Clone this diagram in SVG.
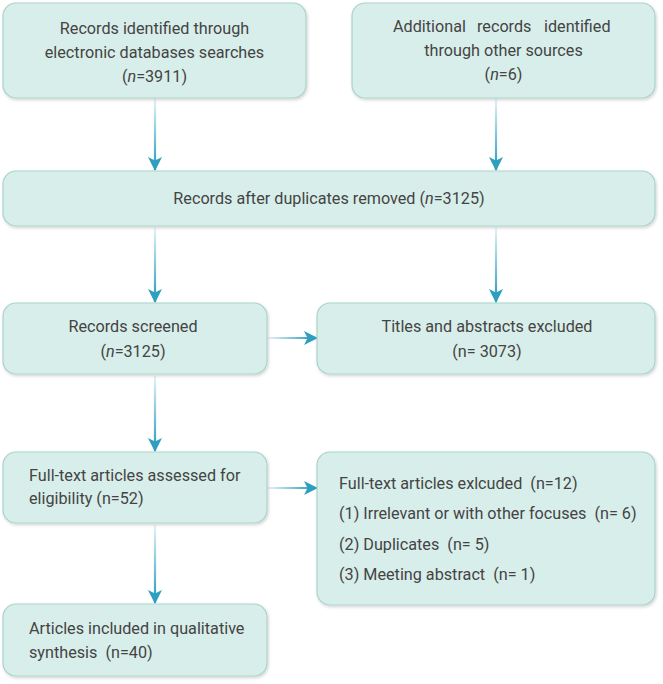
<svg xmlns="http://www.w3.org/2000/svg" width="663" height="684" viewBox="0 0 663 684">
<defs>
<style>
.box{fill:#d8eeea;stroke:#a9d3cc;stroke-width:1.2;filter:url(#sh)}
.t{font-family:Roboto,"Liberation Sans",sans-serif;font-size:16.2px;fill:#444}
.c{text-anchor:middle}
.con{stroke-width:2.2;fill:none}
.s0{stop-color:#e6f3f7}
.s1{stop-color:#2e9fbf}
</style>
<filter id="sh" x="-5%" y="-10%" width="110%" height="125%">
<feDropShadow dx="1" dy="1.5" stdDeviation="1.5" flood-color="#000" flood-opacity="0.18"/>
</filter>
<linearGradient id="g1" gradientUnits="userSpaceOnUse" x1="0" y1="99" x2="0" y2="165"><stop offset="0" class="s0"/><stop offset="1" class="s1"/></linearGradient>
<linearGradient id="g2" gradientUnits="userSpaceOnUse" x1="0" y1="228" x2="0" y2="297"><stop offset="0" class="s0"/><stop offset="1" class="s1"/></linearGradient>
<linearGradient id="g3" gradientUnits="userSpaceOnUse" x1="0" y1="376" x2="0" y2="446"><stop offset="0" class="s0"/><stop offset="1" class="s1"/></linearGradient>
<linearGradient id="g4" gradientUnits="userSpaceOnUse" x1="0" y1="525" x2="0" y2="598"><stop offset="0" class="s0"/><stop offset="1" class="s1"/></linearGradient>
<linearGradient id="gh" gradientUnits="userSpaceOnUse" x1="268" y1="0" x2="312" y2="0"><stop offset="0" class="s0"/><stop offset="1" class="s1"/></linearGradient>
<marker id="ah" viewBox="0 0 14 14" refX="13" refY="7" markerWidth="14" markerHeight="14" markerUnits="userSpaceOnUse" orient="auto">
<path d="M0,0 L14,7 L0,14 L3.5,7 Z" fill="#2e9fbf"/>
</marker>
</defs>

<g id="connectors">
<line class="con" x1="155" y1="99" x2="155" y2="170" stroke="url(#g1)" marker-end="url(#ah)"/>
<line class="con" x1="496" y1="99" x2="496" y2="170" stroke="url(#g1)" marker-end="url(#ah)"/>
<line class="con" x1="155" y1="228" x2="155" y2="302" stroke="url(#g2)" marker-end="url(#ah)"/>
<line class="con" x1="496" y1="228" x2="496" y2="302" stroke="url(#g2)" marker-end="url(#ah)"/>
<line class="con" x1="268" y1="338" x2="317" y2="338" stroke="url(#gh)" marker-end="url(#ah)"/>
<line class="con" x1="155" y1="376" x2="155" y2="451" stroke="url(#g3)" marker-end="url(#ah)"/>
<line class="con" x1="268" y1="488" x2="317" y2="488" stroke="url(#gh)" marker-end="url(#ah)"/>
<line class="con" x1="155" y1="525" x2="155" y2="603" stroke="url(#g4)" marker-end="url(#ah)"/>
</g>

<g id="n1">
<rect class="box" x="3" y="3" width="303" height="95" rx="13"/>
<text class="t c" x="154.5" y="34">Records identified through</text>
<text class="t c" x="154.5" y="58">electronic databases searches</text>
<text class="t c" x="154.5" y="82">(<tspan font-style="italic">n</tspan>=3911)</text>
</g>

<g id="n2">
<rect class="box" x="352" y="3" width="303" height="95" rx="13"/>
<text class="t" y="32"><tspan x="393">Additional</tspan><tspan x="477">records</tspan><tspan x="544">identified</tspan></text>
<text class="t c" x="503.5" y="56">through other sources</text>
<text class="t c" x="503.5" y="80">(<tspan font-style="italic">n</tspan>=6)</text>
</g>

<g id="n3">
<rect class="box" x="3" y="171" width="652" height="55" rx="13"/>
<text class="t c" x="329" y="204">Records after duplicates removed (<tspan font-style="italic">n</tspan>=3125)</text>
</g>

<g id="n4">
<rect class="box" x="3" y="303" width="264" height="71" rx="13"/>
<text class="t c" x="133" y="332">Records screened</text>
<text class="t c" x="133" y="357">(<tspan font-style="italic">n</tspan>=3125)</text>
</g>

<g id="n5">
<rect class="box" x="317" y="303" width="338" height="71" rx="13"/>
<text class="t c" x="487" y="332">Titles and abstracts excluded</text>
<text class="t c" x="487" y="357">(n= 3073)</text>
</g>

<g id="n6">
<rect class="box" x="3" y="452" width="264" height="71" rx="13"/>
<text class="t" x="29" y="481">Full-text articles assessed for</text>
<text class="t" x="29" y="504">eligibility (n=52)</text>
</g>

<g id="n7">
<rect class="box" x="317" y="452" width="338" height="153" rx="13"/>
<text class="t" x="339" y="489" xml:space="preserve">Full-text articles exlcuded  (n=12)</text>
<text class="t" x="339" y="519" xml:space="preserve">(1) Irrelevant or with other focuses  (n= 6)</text>
<text class="t" x="339" y="550" xml:space="preserve">(2) Duplicates  (n= 5)</text>
<text class="t" x="339" y="580" xml:space="preserve">(3) Meeting abstract  (n= 1)</text>
</g>

<g id="n8">
<rect class="box" x="3" y="604" width="264" height="72" rx="13"/>
<text class="t" x="29" y="634">Articles included in qualitative</text>
<text class="t" x="29" y="658" xml:space="preserve">synthesis  (n=40)</text>
</g>
</svg>
